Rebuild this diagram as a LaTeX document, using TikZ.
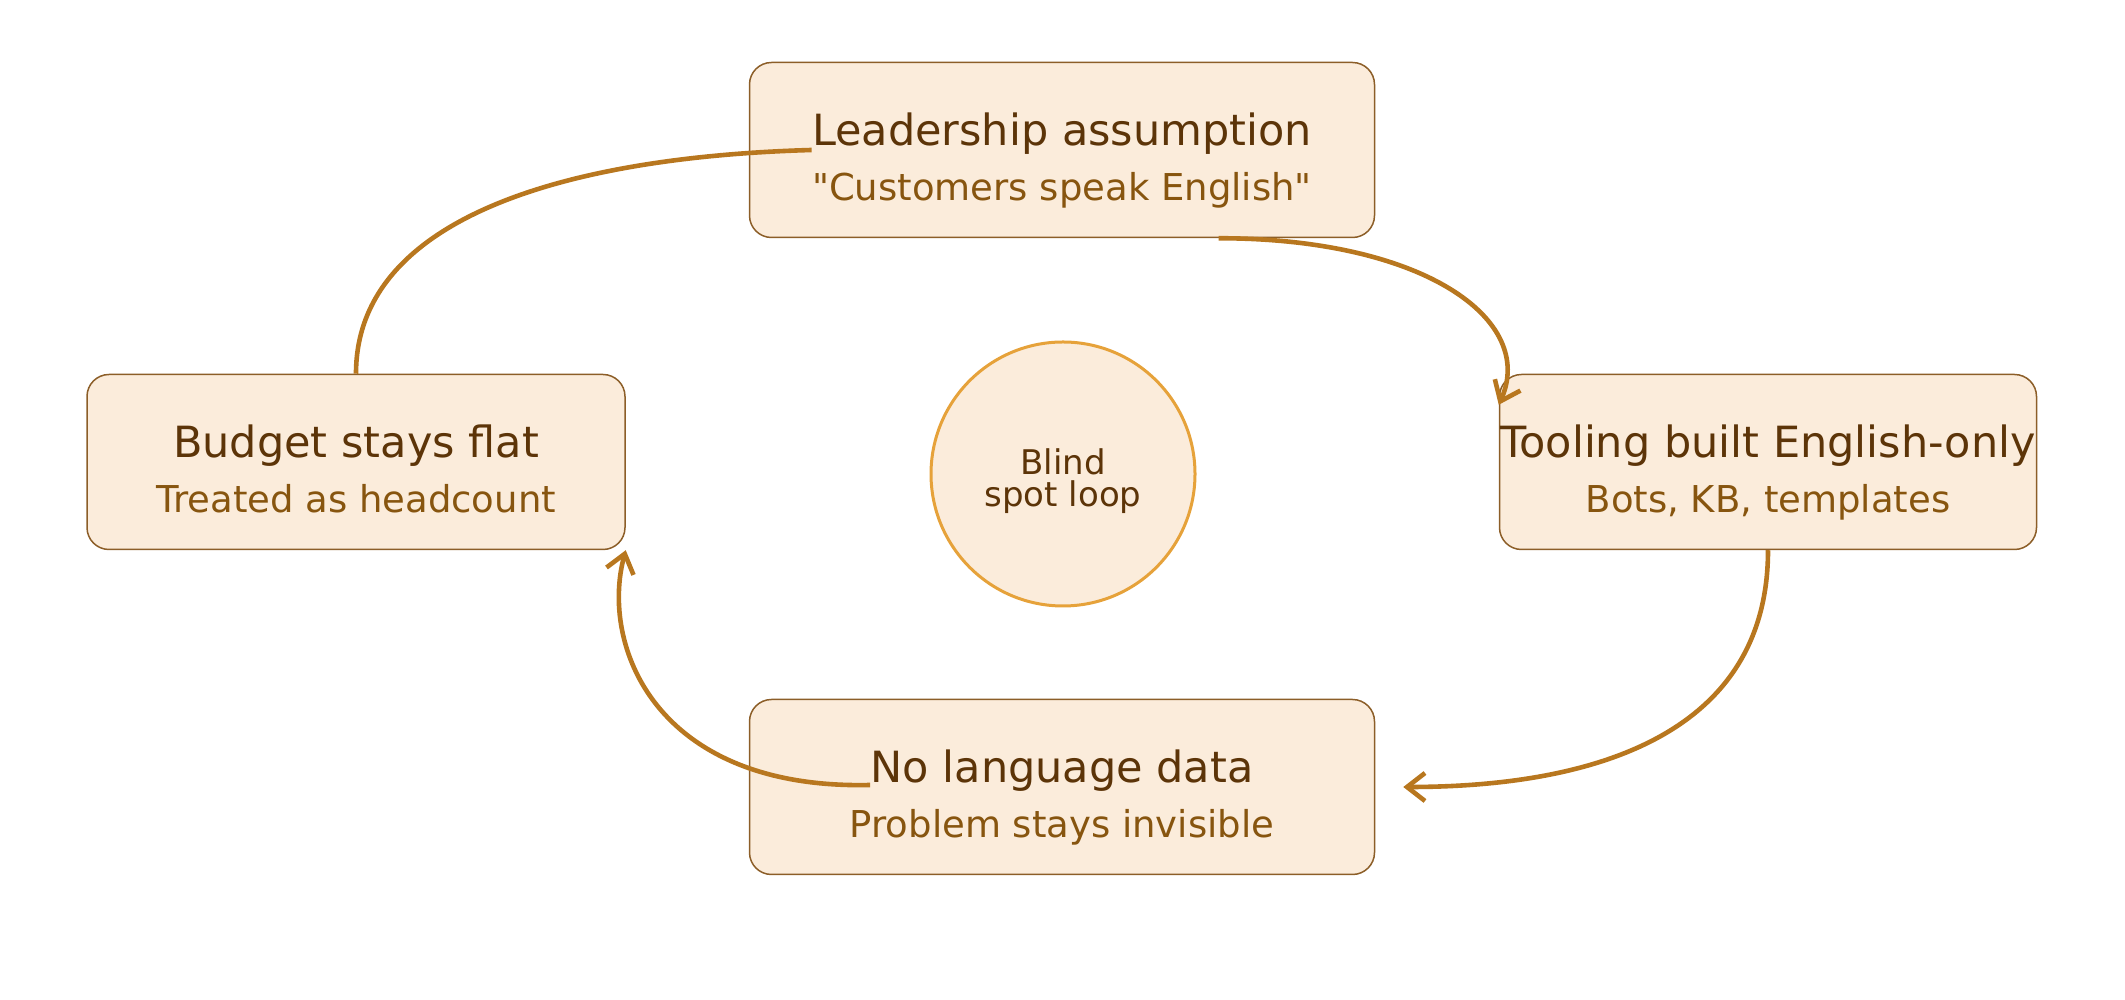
\documentclass[tikz,border=0pt]{standalone}
\usepackage{fontspec}
\setmainfont{DejaVu Sans}
\usepackage{tikz}
\usetikzlibrary{arrows.meta,calc,positioning}
\definecolor{cardfill}{HTML}{FBECDB}
\definecolor{carddraw}{HTML}{8C5E28}
\definecolor{titlebrown}{HTML}{5C3408}
\definecolor{subbrown}{HTML}{87550F}
\definecolor{loopbrown}{HTML}{B8771F}
\definecolor{ringorange}{HTML}{E6A23A}
\tikzset{
	card/.style={draw=carddraw,fill=cardfill,line width=0.75pt,rounded corners=11pt,minimum height=87.5pt,inner sep=0pt},
	cardtitle/.style={text=titlebrown,font=\fontsize{21.5}{24}\selectfont,inner sep=0pt,anchor=base},
	cardsub/.style={text=subbrown,font=\fontsize{18.5}{22}\selectfont,inner sep=0pt,anchor=base},
	loopedge/.style={draw=loopbrown,line width=2.3pt},
}
\newcommand{\plotLoopCard}[5]
{
	\node[card,minimum width=#3](#1) at #2 {};
	\node[cardtitle](#1-t) at ($(#1.center)+(0,4)$) {#4};
	\node[cardsub](#1-s) at ($(#1.center)+(0,-51)$) {#5};
}
\begin{document}
\begin{tikzpicture}[x=0.5pt,y=0.5pt,>={Straight Barb[length=9pt,width=14pt]}]
\useasboundingbox (0,0) rectangle (2125,1000);
\plotLoopCard{lead}{(1062,850)}{312.5pt}{Leadership assumption}{\textquotedbl Customers speak English\textquotedbl}
\plotLoopCard{tool}{(1768,538)}{268.5pt}{Tooling built English-only}{Bots, KB, templates}
\plotLoopCard{nodata}{(1062,213)}{312.5pt}{No language data}{Problem stays invisible}
\plotLoopCard{budget}{(356,538)}{269pt}{Budget stays flat}{Treated as headcount}

\node[circle,draw=ringorange,fill=cardfill,line width=1.5pt,minimum size=132pt,inner sep=0pt](loop) at (1063,526) {};
\node[align=center,text=titlebrown,font=\fontsize{17}{16}\selectfont,inner sep=0pt](loop-t) at ($(loop.center)+(0,-7)$) {Blind\\spot loop};

\draw[loopedge,->]($(lead.south)!0.5!(lead.south east)$) .. controls +(205,0) and +(38,85) .. ($(tool.north west)+(0,-31)$);
\draw[loopedge,->](tool.south) .. controls +(0,-180) and +(198,0) .. ($(nodata.east)+(28,0)$);
\draw[loopedge,->]($(nodata-t.west |- nodata.center)+(0,2)$) .. controls +(-215,-5) and +(-26,-95) .. (budget.south east);
\draw[loopedge](budget.north) .. controls +(0,155) and +(-248,-7) .. (lead-t.west |- lead.center);
\end{tikzpicture}
\end{document}
